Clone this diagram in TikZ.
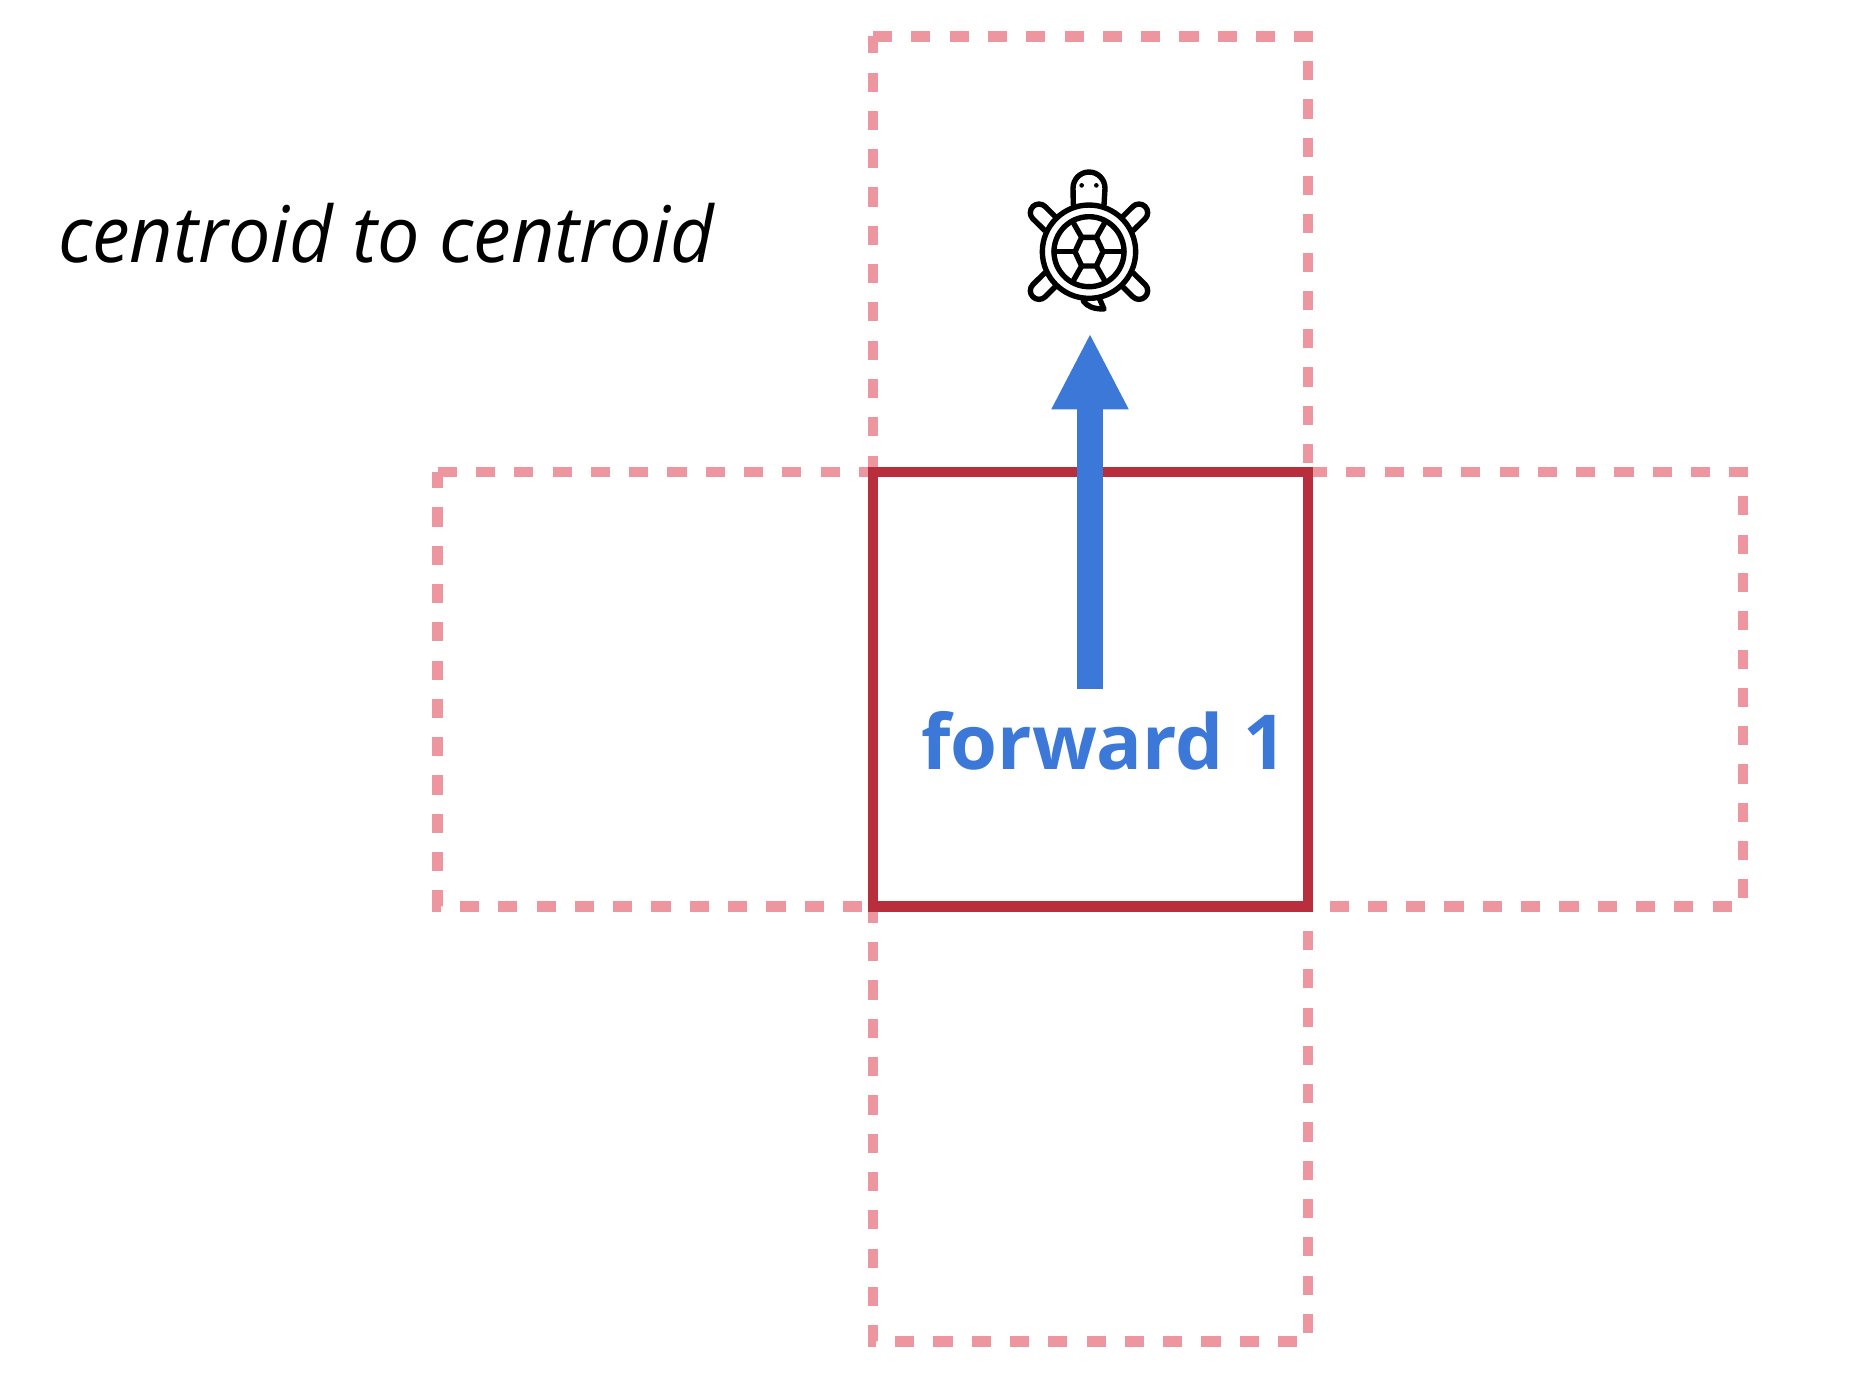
\documentclass[tikz,border=0pt]{standalone}
\usepackage{fontspec}
\setmainfont{Open Sans}
\usetikzlibrary{arrows.meta}
\definecolor{pinkdash}{HTML}{EE96A0}
\definecolor{cellred}{HTML}{B82E3C}
\definecolor{moveblue}{HTML}{3C78D8}
\tikzset{
  x=1pt,y=-1pt,
  ghostcell/.style={draw=pinkdash,line width=10.4pt,dash pattern=on 19.15pt off 19.15pt,miter limit=10},
  maincell/.style={draw=cellred,line width=10.4pt},
  movearrow/.style={draw=moveblue,line width=25.4pt,-{Triangle[length=76.5pt,width=71.5pt]}},
  turtleline/.style={draw=black,line width=5.4pt,line cap=round,line join=round},
  caption/.style={inner sep=0pt,anchor=base west,text=black,yscale=1.035,transform shape,font=\fontsize{75.4}{90}\selectfont\itshape},
  movelabel/.style={inner sep=0pt,anchor=base west,text=moveblue,font=\fontsize{75.9}{86}\selectfont\bfseries}
}
\begin{document}
\begin{tikzpicture}
\useasboundingbox (0,0) rectangle (1872,1396);
% neighbouring cells, clockwise from their top-left corners
\draw[ghostcell] (873,36.5) -- (1308,36.5) -- (1308,471.7) -- (873,471.7) -- cycle;
\draw[ghostcell] (1308,471.7) -- (1743,471.7) -- (1743,906.3) -- (1308,906.3) -- cycle;
\draw[ghostcell] (437.6,471.7) -- (873,471.7) -- (873,906.3) -- (437.6,906.3) -- cycle;
\draw[ghostcell] (873,906.3) -- (1308,906.3) -- (1308,1341.4) -- (873,1341.4) -- cycle;
% current cell
\draw[maincell] (873,471.7) rectangle (1308,906.3);
% arrow
\coordinate (arrowtail) at (1090,688.7);
\coordinate (arrowtip) at (1090,333);
\draw[movearrow] (arrowtail) -- (arrowtip);
% texts
\node[caption] (title) at (58,262.5) {centroid to centroid};
\node[movelabel] (move) at (921,769.3) {forward 1};
% turtle
\begin{scope}[shift={(1089,251.7)},x=0.33333pt,y=-0.33333pt]
  \draw[turtleline] (0,0) circle[radius=140];
  \draw[turtleline] (0,0) circle[radius=105];
  \draw[turtleline] (-42,0) -- (-22,-43) -- (22,-43) -- (42,0) -- (22,43) -- (-22,43) -- cycle;
  \draw[turtleline] (-42,0) -- (-105,0);
  \draw[turtleline] (42,0) -- (105,0);
  \draw[turtleline] (-22,-43) -- (-46,-85);
  \draw[turtleline] (22,-43) -- (46,-85);
  \draw[turtleline] (-22,43) -- (-46,85);
  \draw[turtleline] (22,43) -- (46,85);
  \foreach \sx in {1,-1} \foreach \sy in {1,-1} {
    \draw[turtleline,xscale=\sx,yscale=\sy] (101,-105) -- (131.6,-135.4)
      .. controls (141.75,-145.55) and (158.25,-145.55) .. (168.4,-135.4)
      .. controls (178.55,-125.25) and (178.55,-108.75) .. (168.4,-98.6)
      -- (133,-64);
  }
  \draw[turtleline] (-47,-140) -- (-48,-190)
     .. controls (-48,-217) and (-27,-239) .. (0,-239)
     .. controls (27,-239) and (48,-217) .. (48,-190) -- (45,-140);
  \fill (-22,-199) circle[radius=7];
  \fill (22,-199) circle[radius=7];
  \draw[turtleline] (-17,148) .. controls (-5,165) and (15,172) .. (45,172) -- (32,142);
\end{scope}
\end{tikzpicture}
\end{document}
